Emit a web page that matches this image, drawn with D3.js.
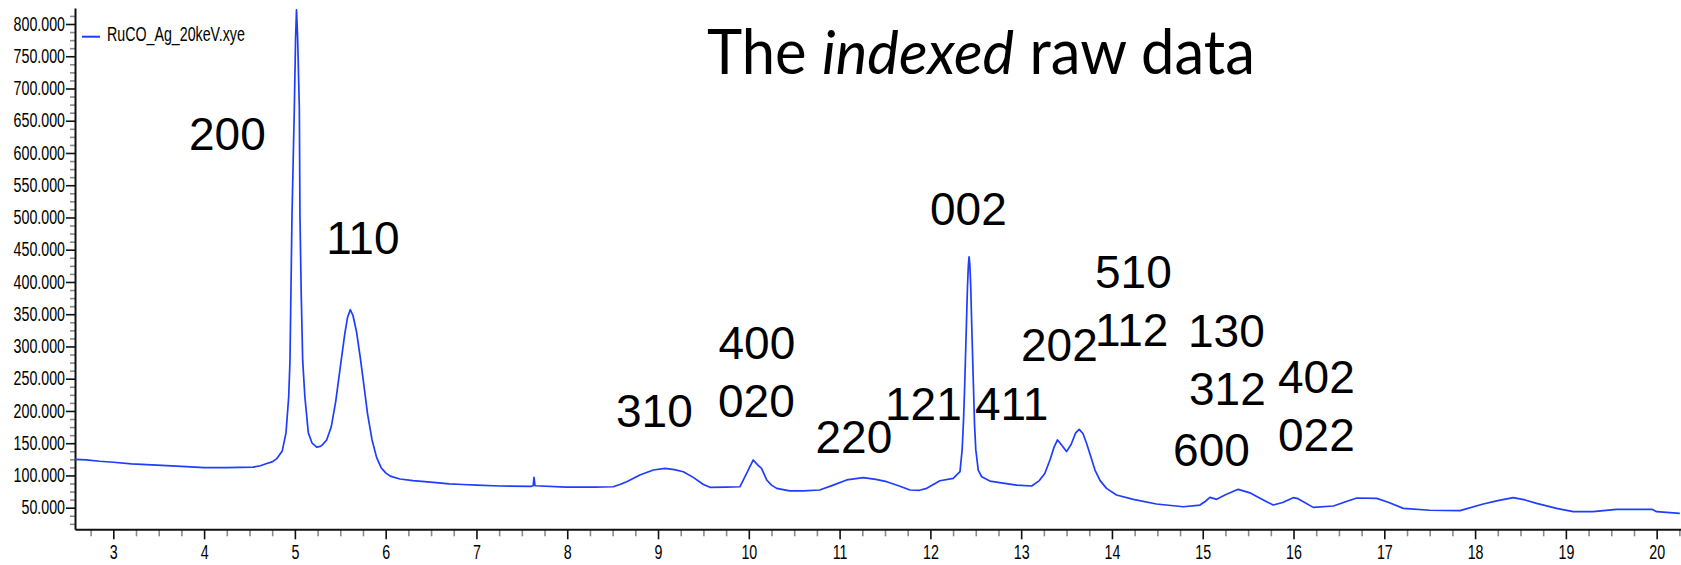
<!DOCTYPE html>
<html>
<head>
<meta charset="utf-8">
<script src="https://cdn.jsdelivr.net/npm/d3@7"></script>
<style>
  body { margin: 0; background: #fff; }
  svg { display: block; }
</style>
</head>
<body>
<svg id="chart" width="1681" height="565"></svg>
<script>
// Powder pattern: 2-theta (degrees) and counts
const twoTheta = [
  2.578, 2.70, 2.85, 3.00, 3.20, 3.48, 3.75, 4.00, 4.25, 4.54, 4.62, 4.69, 4.75, 4.80, 4.861,
  4.902, 4.932, 4.946, 4.958, 4.968, 4.994, 5.008, 5.018, 5.030, 5.049, 5.056, 5.070, 5.086,
  5.110, 5.148, 5.190, 5.240, 5.280, 5.300, 5.350, 5.400, 5.450, 5.500, 5.550, 5.580, 5.610,
  5.640, 5.680, 5.720, 5.760, 5.800, 5.850, 5.900, 5.950, 6.000, 6.050, 6.157,
  6.300, 6.525, 6.700, 6.855, 7.000, 7.260, 7.600, 7.625, 7.634, 7.645, 7.990, 8.300, 8.507,
  8.580, 8.655, 8.800, 8.948, 9.077, 9.180, 9.278, 9.388, 9.500, 9.572, 9.750, 9.903, 9.958,
  10.000, 10.049, 10.100, 10.140, 10.197, 10.250, 10.307, 10.450, 10.600, 10.780, 10.930,
  11.078, 11.260, 11.400, 11.518, 11.650, 11.775, 11.880, 11.960, 12.105, 12.252, 12.326,
  12.350, 12.365, 12.378, 12.392, 12.408, 12.418, 12.426, 12.434, 12.444, 12.458, 12.472,
  12.486, 12.500, 12.527, 12.565,
  12.656, 12.800, 12.950, 13.116, 13.200, 13.260, 13.317, 13.360, 13.400, 13.430, 13.500,
  13.550, 13.600, 13.640, 13.680, 13.720, 13.770, 13.813, 13.870, 13.940, 14.050, 14.235,
  14.490, 14.785, 14.970, 15.030, 15.079, 15.153, 15.250,
  15.390, 15.520, 15.600, 15.704, 15.777, 15.880, 15.997, 16.050, 16.217, 16.440, 16.550,
  16.696, 16.917, 17.050, 17.210, 17.500, 17.833, 18.090, 18.250, 18.420, 18.550, 18.678,
  18.898, 19.080, 19.300, 19.557, 19.948, 20.000, 20.255
];
const intensity = [
  125000, 124000, 122000, 120500, 118000, 116000, 114000, 112000, 112000, 113000, 115000, 118500, 121000, 126000, 138000,
  166000, 222000, 278000, 400000, 502000, 670000, 780000, 822000, 780000, 670000, 502000, 380000, 278000,
  222000, 166000, 150000, 144000, 145000, 147000, 155000, 175000, 215000, 268000, 320000, 345000, 357000,
  348000, 322000, 283000, 240000, 196000, 155000, 128000, 112000, 104000, 99000, 94500,
  92000, 89300, 87000, 86000, 85000, 83600, 83000, 84000, 97000, 84000, 82000, 82000, 82500,
  86000, 90300, 100700, 108400, 111000, 109000, 105800, 97000, 86000, 81600, 82000, 82500, 98000,
  110000, 124000, 116000, 111000, 93000, 85000, 80000, 76000, 76000, 77400, 85000,
  93000, 96500, 94000, 90300, 84000, 77400, 77000, 80000, 91800, 95500, 105800,
  140000, 185000, 240000, 310000, 390000, 425000, 439000, 428000, 395000, 320000, 250000,
  180000, 140000, 108400, 98000,
  91300, 88000, 85000, 83600, 92000, 103000, 124000, 143000, 155000, 150000, 137000,
  148000, 166000, 171500, 165000, 150000, 128000, 108400, 92000, 80000, 69700, 63000,
  55700, 51500, 54100, 60000, 66000, 63000, 70000,
  78500, 73000, 67000, 59300, 54100, 58000, 65500, 64000, 50500, 52600, 58000,
  65000, 64500, 58000, 49000, 46000, 45400, 55700, 61000, 65500, 62000, 56800,
  49000, 43800, 44000, 47500, 47500, 43800, 41300
];

const seriesName = "RuCO_Ag_20keV.xye";
const xTickValues = d3.range(3, 21, 1);
const xMinorValues = d3.range(2.75, 20.26, 0.25).filter(v => Math.abs(v - Math.round(v)) > 1e-6);
const yTickValues = d3.range(50000, 800001, 50000);
const yMinorValues = d3.range(25000, 812501, 12500).filter(v => v % 50000 !== 0);

// Miller indices written next to the reflections
const peakLabels = ["200", "110", "310", "400", "020", "220", "121", "002", "411",
                    "202", "510", "112", "130", "312", "600", "402", "022"];
const peakLabelX = [3.834, 5.345, 8.537, 9.666, 9.661, 10.735, 11.500, 11.996, 12.491,
                    12.998, 13.813, 13.813, 14.838, 14.849, 14.673, 15.829, 15.829];
const peakLabelY = [604600, 443400, 175600, 280600, 190200, 134800, 186000, 488300, 186000,
                    277900, 390200, 300700, 299600, 209200, 114700, 227400, 138400];

const titleParts = [
  { text: "The ", italic: false },
  { text: "indexed", italic: true },
  { text: " raw data", italic: false }
];

const svg = d3.select("#chart");
const lineColor = "#1e3dff";
const tickFont = "'Liberation Sans', Arial, sans-serif";
const squeeze = 0.73;

const x = d3.scaleLinear().domain([2.578, 20.268]).range([75, 1681]);
const y = d3.scaleLinear().domain([16500, 824800]).range([529.3, 8]);

const fmt = d3.formatLocale({ decimal: ",", thousands: ".", grouping: [3], currency: ["", ""] }).format(",");

// minor ticks (grey)
svg.append("g")
  .attr("transform", `translate(0,${y.range()[0]})`)
  .call(d3.axisBottom(x).tickValues(xMinorValues).tickSize(7).tickFormat(""))
  .call(g => g.select(".domain").remove())
  .call(g => g.selectAll("line").attr("stroke", "#8a8a8a").attr("stroke-width", 1.6));

svg.append("g")
  .attr("transform", `translate(${x.range()[0]},0)`)
  .call(d3.axisLeft(y).tickValues(yMinorValues).tickSize(5).tickFormat(""))
  .call(g => g.select(".domain").remove())
  .call(g => g.selectAll("line").attr("stroke", "#8a8a8a").attr("stroke-width", 1.6));

// major axes
const xAxis = svg.append("g")
  .attr("transform", `translate(0,${y.range()[0]})`)
  .call(d3.axisBottom(x).tickValues(xTickValues).tickSize(10).tickSizeOuter(0).tickPadding(6).tickFormat(d3.format("d")));

const yAxis = svg.append("g")
  .attr("transform", `translate(${x.range()[0]},0)`)
  .call(d3.axisLeft(y).tickValues(yTickValues).tickSize(9).tickSizeOuter(0).tickPadding(1).tickFormat(fmt));

[xAxis, yAxis].forEach(g => {
  g.select(".domain").attr("stroke", "#111").attr("stroke-width", 2);
  g.selectAll(".tick line").attr("stroke", "#111").attr("stroke-width", 1.6);
  g.selectAll(".tick text")
    .attr("fill", "#000")
    .style("font-family", tickFont)
    .style("font-size", "19.5px");
});
xAxis.selectAll(".tick text").attr("transform", `scale(${squeeze},1)`);
yAxis.selectAll(".tick text")
  .attr("x", function() { return +d3.select(this).attr("x") / squeeze; })
  .attr("transform", `scale(${squeeze},1)`);

// pattern
const line = d3.line().x((d, i) => x(twoTheta[i])).y(d => y(d));
svg.append("path")
  .datum(intensity)
  .attr("fill", "none")
  .attr("stroke", lineColor)
  .attr("stroke-width", 1.7)
  .attr("stroke-linejoin", "round")
  .attr("d", line);

// legend
const legend = svg.append("g").attr("transform", "translate(82,36.7)");
legend.append("line").attr("x1", 0).attr("x2", 18).attr("y1", 0).attr("y2", 0)
  .attr("stroke", lineColor).attr("stroke-width", 2);
legend.append("text")
  .attr("transform", `translate(25,4) scale(${squeeze},1)`)
  .style("font-family", tickFont).style("font-size", "19.5px")
  .attr("fill", "#000")
  .text(seriesName);

// reflection labels
svg.append("g").selectAll("text")
  .data(peakLabels)
  .join("text")
  .attr("x", (d, i) => x(peakLabelX[i]))
  .attr("y", (d, i) => y(peakLabelY[i]))
  .style("font-family", tickFont)
  .style("font-size", "46px")
  .attr("fill", "#000")
  .text(d => d);

// title
const title = svg.append("text")
  .style("font-family", "Lato, 'Open Sans', sans-serif")
  .style("font-size", "61px")
  .attr("fill", "#000");
title.selectAll("tspan")
  .data(titleParts)
  .join("tspan")
  .style("font-style", d => d.italic ? "italic" : "normal")
  .text(d => d.text);
const titleWidth = title.node().getComputedTextLength();
title.attr("transform", `translate(707,73.5) scale(${548 / titleWidth},1)`);
</script>
</body>
</html>
